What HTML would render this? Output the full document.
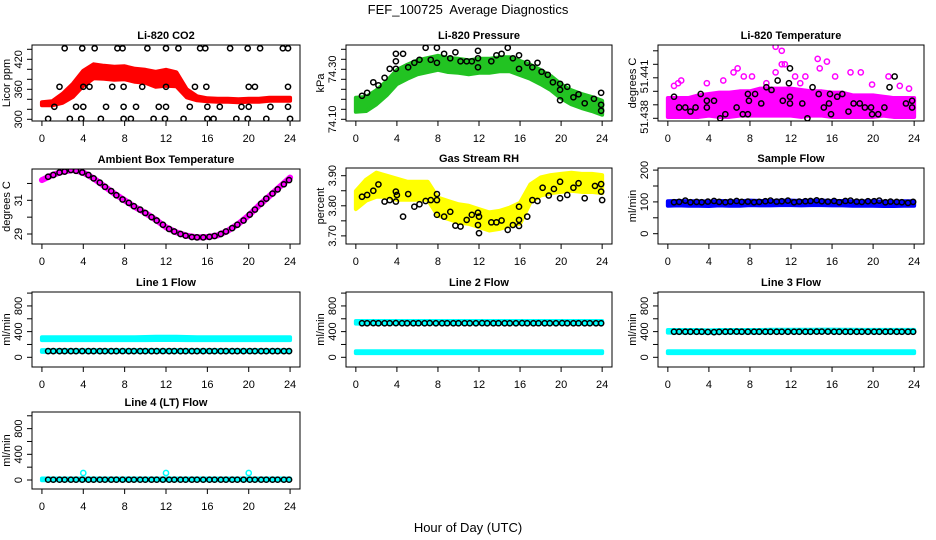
<!DOCTYPE html>
<html><head><meta charset="utf-8"><style>
html,body{margin:0;padding:0;background:#fff;}
svg{display:block;font-family:"Liberation Sans",sans-serif;}
</style></head><body>
<svg id="chart" width="936" height="540" viewBox="0 0 936 540" xmlns="http://www.w3.org/2000/svg">
<rect x="0" y="0" width="936" height="540" fill="#fff"/>
<text x="468" y="14" text-anchor="middle" font-size="13" style="white-space:pre">FEF_100725  Average Diagnostics</text>
<text x="468" y="532" text-anchor="middle" font-size="13">Hour of Day (UTC)</text>
</svg>
<script>
// ---- shared data ----
const xTicks = [0,4,8,12,16,20,24];
const hrs25 = [0,1,2,3,4,5,6,7,8,9,10,11,12,13,14,15,16,17,18,19,20,21,22,23,24];
const sampHours = [0.6,1.1,1.7,2.2,2.8,3.3,3.9,4.5,5.0,5.6,6.1,6.7,7.2,7.8,8.4,8.9,9.5,10.0,10.6,11.1,11.7,12.3,12.8,13.4,13.9,14.5,15.0,15.6,16.2,16.7,17.3,17.8,18.4,18.9,19.5,20.1,20.6,21.2,21.7,22.3,22.8,23.4,23.9];

// CO2
const co2Mid = [331,332,342,358,382,396,394,392,393,388,386,380,383,380,352,342,339,338,338,337,338,338,340,340,340];
const co2Half = [3,4,9,13,15,14,13,13,13,13,13,15,16,14,8,4,3,3,3,3,3,3,3,3,3];
const co2PtHours = [2.2,3.9,5.1,7.3,7.8,10.2,12.0,13.2,15.3,15.8,18.2,19.9,21.1,23.3,23.8,
 1.7,4.0,4.6,6.8,7.9,9.7,12.0,14.8,15.9,20.0,20.6,23.8,
 1.2,3.3,4.0,6.2,7.9,9.1,11.3,12.0,14.3,16.0,17.2,19.3,20.0,22.1,23.8,
 0.6,2.7,3.8,5.7,7.9,8.6,10.8,11.9,13.7,16.0,16.6,18.8,19.9,21.7,24.0];
const co2PtVals = [442,442,442,442,442,442,442,442,442,442,442,442,442,442,442,
 365,365,365,365,365,365,365,365,365,365,365,365,
 325,325,325,325,325,325,325,325,325,325,325,325,325,325,325,
 301,301,301,301,301,301,301,301,301,301,301,301,301,301,301];

// Pressure
const presMid = [74.158,74.161,74.188,74.224,74.269,74.29,74.308,74.317,74.326,74.317,74.314,74.308,74.314,74.314,74.32,74.32,74.305,74.29,74.269,74.245,74.212,74.188,74.173,74.161,74.146];
const presHalf = [0.028,0.028,0.028,0.028,0.028,0.028,0.028,0.028,0.028,0.028,0.028,0.028,0.028,0.028,0.028,0.028,0.028,0.028,0.028,0.028,0.028,0.028,0.028,0.028,0.028];
const presPtHours = [0.6,1.1,1.7,2.2,2.8,3.3,3.9,3.9,3.9,4.6,5.1,5.7,6.2,6.8,7.3,7.9,7.9,8.6,9.2,9.7,10.2,10.8,11.3,11.9,11.9,11.9,13.2,13.7,14.2,14.8,15.3,15.9,15.9,16.7,17.2,17.7,18.1,18.7,19.2,19.9,19.9,19.9,20.6,21.2,21.7,22.3,23.2,23.9,23.9,23.9];
const presPtVals = [74.194,74.206,74.248,74.236,74.266,74.302,74.362,74.332,74.302,74.362,74.308,74.326,74.338,74.386,74.338,74.386,74.326,74.362,74.344,74.368,74.332,74.332,74.332,74.374,74.344,74.308,74.332,74.356,74.362,74.386,74.344,74.356,74.302,74.326,74.308,74.326,74.29,74.278,74.248,74.242,74.218,74.176,74.23,74.188,74.2,74.164,74.182,74.206,74.158,74.134];

// Li-820 Temperature
const tMid = [51.4388,51.4388,51.4388,51.4389,51.4390,51.4390,51.4390,51.4391,51.4391,51.4392,51.4392,51.4392,51.4392,51.4391,51.4391,51.4391,51.4390,51.4390,51.4389,51.4389,51.4389,51.4389,51.4388,51.4388,51.4388];
const tHalf = [0.0007,0.0007,0.0007,0.0008,0.0008,0.0009,0.0009,0.0009,0.0009,0.0010,0.0010,0.0010,0.0010,0.0010,0.0009,0.0009,0.0009,0.0009,0.0008,0.0008,0.0008,0.0007,0.0007,0.0007,0.0007];
const tOutHours = [10.5,11.1,14.6,15.5,14.8,11.1,11.4,6.8,6.4,1.3,5.4,7.4,8.2,10.5,12.4,13.4,16.3,17.8,18.8,21.5,0.6,1.0,3.8,9.6,12.9,19.9,22.6,23.5];
const tOutVals = [51.4433,51.4430,51.4424,51.4422,51.4417,51.4420,51.4420,51.4417,51.4414,51.4408,51.4408,51.4411,51.4411,51.4414,51.4411,51.4411,51.4411,51.4414,51.4414,51.4411,51.4404,51.4406,51.4406,51.4406,51.4406,51.4405,51.4404,51.4402];
const tPtHours = [0.6,1.1,1.7,2.2,2.7,3.2,3.8,3.8,4.5,5.1,5.6,6.7,7.3,7.8,7.8,7.9,8.5,9.1,9.6,10.1,10.7,11.2,11.8,11.9,11.9,11.9,13.1,13.6,14.1,14.7,15.2,15.7,15.8,15.9,16.5,17.0,17.6,18.1,18.7,19.2,19.8,19.9,20.5,21.1,21.6,22.1,23.2,23.8,23.8];
const tPtVals = [51.4396,51.4388,51.4388,51.4385,51.4388,51.4398,51.4393,51.4388,51.4393,51.4380,51.4383,51.4388,51.4383,51.4383,51.4398,51.4393,51.4398,51.4391,51.4403,51.4401,51.4408,51.4393,51.4406,51.4396,51.4391,51.4417,51.4391,51.4380,51.4403,51.4398,51.4388,51.4391,51.4398,51.4383,51.4396,51.4398,51.4385,51.4391,51.4391,51.4388,51.4388,51.4383,51.4383,51.4388,51.4403,51.4411,51.4391,51.4393,51.4388];

// Ambient box temperature
const ambMid = [32.2,32.5,32.7,32.8,32.65,32.3,31.85,31.4,31.0,30.6,30.25,29.85,29.4,29.1,28.9,28.8,28.82,28.92,29.2,29.6,30.1,30.7,31.25,31.8,32.35];
const ambPtVals = [32.4,32.5,32.65,32.7,32.8,32.75,32.65,32.5,32.3,32.05,31.8,31.55,31.3,31.05,30.85,30.65,30.45,30.25,30.0,29.8,29.55,29.3,29.15,29.0,28.9,28.82,28.8,28.8,28.83,28.88,29.0,29.15,29.35,29.55,29.8,30.15,30.45,30.8,31.1,31.4,31.65,31.95,32.2];

// Gas stream RH
const rhMid = [3.819,3.852,3.870,3.865,3.855,3.850,3.850,3.850,3.797,3.786,3.775,3.770,3.759,3.748,3.753,3.764,3.775,3.841,3.864,3.872,3.876,3.880,3.876,3.876,3.872];
const rhHalf = [0.03,0.035,0.04,0.035,0.035,0.03,0.03,0.03,0.03,0.03,0.03,0.03,0.03,0.03,0.03,0.03,0.035,0.03,0.03,0.03,0.03,0.03,0.03,0.03,0.03];
const rhPtHours = [0.6,1.1,1.7,2.2,2.8,3.3,3.9,3.9,4.0,4.6,5.1,5.7,6.2,6.8,7.3,7.9,7.9,7.9,8.6,9.2,9.7,10.2,10.8,11.3,11.9,11.9,12.0,12.0,13.2,13.7,14.2,14.8,15.3,15.9,15.9,15.9,16.7,17.2,17.7,18.2,18.8,19.3,19.9,19.9,20.6,21.2,21.7,22.3,23.3,23.9,23.9,24.0];
const rhPtVals = [3.830,3.836,3.850,3.871,3.814,3.819,3.847,3.814,3.836,3.764,3.839,3.797,3.805,3.816,3.819,3.839,3.819,3.770,3.764,3.780,3.734,3.731,3.753,3.770,3.777,3.736,3.709,3.764,3.745,3.745,3.751,3.720,3.736,3.753,3.797,3.733,3.764,3.819,3.816,3.860,3.834,3.856,3.880,3.825,3.836,3.860,3.875,3.825,3.866,3.872,3.847,3.819];

// Sample flow
const sfMid = [95,96,95,95,94,96,95,95,97,96,96,97,97,96,97,97,96,96,95,95,95,94,94,95,95];
const sfHalf = [7,7,7,7,7,7,7,7,7,7,7,7,7,7,7,7,7,7,7,7,7,7,7,7,7];
const sfPtVals = [99,100,104,99,100,99,101,103,100,99,101,103,100,101,99,100,102,104,101,102,104,99,101,102,103,105,102,101,103,99,103,104,101,100,102,102,104,99,101,100,99,97,100];

// Line flows
const l1Mid = [290,290,290,290,290,290,290,290,290,290,292,295,295,295,292,290,290,290,290,290,290,290,290,290,290];
const l1Half = [22,22,22,22,22,22,22,22,22,22,24,26,26,26,24,22,22,22,22,22,22,22,22,22,22];
const l1LowMid = [98,98,98,98,98,98,98,98,98,98,98,98,98,98,98,98,98,98,98,98,98,98,98,98,98];
const l1PtVals = [96,96,96,96,96,96,97,96,96,96,96,96,96,97,96,96,96,96,96,96,97,96,96,96,96,96,96,96,97,96,96,96,96,96,96,97,96,96,96,96,96,96,96];
const l2Mid = [545,545,545,545,545,545,545,545,545,545,545,545,545,545,545,545,545,545,545,545,545,545,545,545,545];
const l2LowMid = [80,80,80,80,80,80,80,80,80,80,80,80,80,80,80,80,80,80,80,80,80,80,80,80,80];
const l2PtVals = [530,530,532,530,530,531,532,530,530,530,531,530,532,530,530,531,530,530,531,530,530,532,530,530,531,530,530,530,532,530,530,531,530,530,530,532,530,530,531,530,530,530,530];
const l3Mid = [405,405,405,405,400,405,405,405,405,405,410,410,410,410,410,412,412,410,410,408,408,408,408,408,408];
const l3LowMid = [80,80,80,80,80,80,80,80,80,80,80,80,80,80,80,80,80,80,80,80,80,80,80,80,80];
const l3PtVals = [398,398,398,398,398,398,395,392,396,398,400,400,398,398,398,398,398,398,398,398,398,398,398,398,398,400,400,400,398,398,398,398,398,398,398,398,398,398,400,398,398,398,398];
const l4Mid = [10,10,10,10,10,10,10,10,10,10,10,10,10,10,10,10,10,10,10,10,10,10,10,10,10];
const l4SpikeHours = [4,12,20];
const l4SpikeVals = [110,110,110];
const l4PtVals = [5,5,5,5,5,5,5,5,5,5,5,5,5,5,5,5,5,5,5,5,5,5,5,5,5,5,5,5,5,5,5,5,5,5,5,5,5,5,5,5,5,5,5];
const lineHalf = [20,20,20,20,20,20,20,20,20,20,20,20,20,20,20,20,20,20,20,20,20,20,20,20,20];
const lowHalf = [14,14,14,14,14,14,14,14,14,14,14,14,14,14,14,14,14,14,14,14,14,14,14,14,14];

// ---- drawing helpers ----
const NS = 'http://www.w3.org/2000/svg';
const svg = document.getElementById('chart');
function mk(tag, attrs, parent) {
  const e = document.createElementNS(NS, tag);
  for (const k in attrs) e.setAttribute(k, attrs[k]);
  (parent || svg).appendChild(e);
  return e;
}
function panel(cfg) {
  const g = mk('g', {});
  
  
  const x = h => cfg.left + (h - (-0.96)) / 25.92 * cfg.w;
  const y = v => cfg.top + (cfg.ymax - v) / (cfg.ymax - cfg.ymin) * cfg.h;
  const plot = mk('g', {}, g);
  
  
  const t = mk('text', {x: cfg.left + cfg.w / 2, y: cfg.top - 6, 'text-anchor': 'middle', 'font-size': 11, 'font-weight': 'bold'}, g);
  t.textContent = cfg.title;
  
  
  const xa = mk('g', {}, g);
  
  
  xTicks.forEach(tk => {
    const px = x(tk);
    mk('line', {x1: px, x2: px, y1: cfg.top + cfg.h, y2: cfg.top + cfg.h + 5, stroke: '#000', 'stroke-width': 1}, xa);
    const lb = mk('text', {x: px, y: cfg.top + cfg.h + 21, 'text-anchor': 'middle', 'font-size': 11}, xa);
    lb.textContent = String(tk);
    
    
  });
  const ya = mk('g', {}, g);
  
  
  cfg.yTicks.forEach(tk => {
    const py = y(tk);
    mk('line', {x1: cfg.left - 5, x2: cfg.left, y1: py, y2: py, stroke: '#000', 'stroke-width': 1}, ya);
  });
  cfg.yLabelVals.forEach((v, i) => {
    const py = y(v);
    const lb = mk('text', {x: 0, y: 0, 'text-anchor': 'middle', 'font-size': 11, transform: `translate(${cfg.left - 10},${py}) rotate(-90)`}, ya);
    lb.textContent = cfg.yLabelText[i];
    
    
  });
  const yt = mk('text', {x: 0, y: 0, 'text-anchor': 'middle', 'font-size': 11, transform: `translate(${cfg.left - 22},${cfg.top + cfg.h / 2}) rotate(-90)`}, g);
  yt.textContent = cfg.ylab;
  
  
  const clip = mk('clipPath', {id: 'clip-' + cfg.name}, g);
  mk('rect', {x: cfg.left, y: cfg.top, width: cfg.w, height: cfg.h}, clip);
  plot.setAttribute('clip-path', `url(#clip-${cfg.name})`);
  const box = mk('rect', {x: cfg.left, y: cfg.top, width: cfg.w, height: cfg.h, fill: 'none', stroke: '#000', 'stroke-width': 1}, g);
  
  
  return {x, y, plot};
}
function band(p, hrs, mid, half, color, name) {
  let up = [], lo = [];
  hrs.forEach((h, i) => { up.push(p.x(h) + ',' + p.y(mid[i] + half[i])); });
  for (let i = hrs.length - 1; i >= 0; i--) lo.push(p.x(hrs[i]) + ',' + p.y(mid[i] - half[i]));
  const e = mk('polygon', {points: up.concat(lo).join(' '), fill: color, stroke: color, 'stroke-width': 4, 'stroke-linejoin': 'round'}, p.plot);
  
  
}
function thickLine(p, hrs, vals, color, w, name) {
  const e = mk('polyline', {points: hrs.map((h, i) => p.x(h) + ',' + p.y(vals[i])).join(' '), fill: 'none', stroke: color, 'stroke-width': w, 'stroke-linecap': 'round', 'stroke-linejoin': 'round'}, p.plot);
  
  
}
function pts(p, hrs, vals, color, name) {
  const g = mk('g', {}, p.plot);
  
  
  hrs.forEach((h, i) => {
    const c = mk('circle', {cx: p.x(h), cy: p.y(vals[i]), r: 2.6, fill: 'none', stroke: color, 'stroke-width': 1.5}, g);
    
    
  });
}

const C1 = 32, C2 = 346, C3 = 658, W = 268, W2 = 266;
const R1 = 45, R2 = 168, R3 = 292, R4 = 412, H = 76;

let p = panel({name: 'co2', left: C1, top: R1, w: W, h: H, ymin: 296.6, ymax: 448.6, title: 'Li-820 CO2', ylab: 'Licor ppm',
  yTicks: [300,320,340,360,380,400,420,440], yLabelVals: [300,360,420], yLabelText: ['300','360','420']});
band(p, hrs25, co2Mid, co2Half, '#ff0000', 'co2-series');
pts(p, co2PtHours, co2PtVals, '#000', 'co2-averages');

p = panel({name: 'pressure', left: C2, top: R1, w: W2, h: H, ymin: 74.0932, ymax: 74.3972, title: 'Li-820 Pressure', ylab: 'kPa',
  yTicks: [74.10,74.14,74.18,74.22,74.26,74.30,74.34,74.38], yLabelVals: [74.10,74.30], yLabelText: ['74.10','74.30']});
band(p, hrs25, presMid, presHalf, '#22c322', 'pressure-series');
pts(p, presPtHours, presPtVals, '#000', 'pressure-averages');

p = panel({name: 'licor-temp', left: C3, top: R1, w: W2, h: H, ymin: 51.4378, ymax: 51.44343, title: 'Li-820 Temperature', ylab: 'degrees C',
  yTicks: [51.438,51.439,51.440,51.441,51.442,51.443], yLabelVals: [51.4381,51.4411], yLabelText: ['51.438','51.441']});
band(p, hrs25, tMid, tHalf, '#ff00ff', 'licor-temp-series');
pts(p, tOutHours, tOutVals, '#ff00ff', 'licor-temp-outliers');
pts(p, tPtHours, tPtVals, '#000', 'licor-temp-averages');

p = panel({name: 'ambient-temp', left: C1, top: R2 + 1, w: W, h: H - 1, ymin: 28.407, ymax: 32.858, title: 'Ambient Box Temperature', ylab: 'degrees C',
  yTicks: [29,30,31,32], yLabelVals: [29,31], yLabelText: ['29','31']});
thickLine(p, hrs25, ambMid, '#ff00ff', 6, 'ambient-temp-series');
pts(p, sampHours, ambPtVals, '#000', 'ambient-temp-averages');

p = panel({name: 'gas-rh', left: C2, top: R2, w: W2, h: H, ymin: 3.673, ymax: 3.9256, title: 'Gas Stream RH', ylab: 'percent',
  yTicks: [3.70,3.75,3.80,3.85,3.90], yLabelVals: [3.70,3.80,3.90], yLabelText: ['3.70','3.80','3.90']});
band(p, hrs25, rhMid, rhHalf, '#ffff00', 'gas-rh-series');
pts(p, rhPtHours, rhPtVals, '#000', 'gas-rh-averages');

p = panel({name: 'sample-flow', left: C3, top: R2, w: W2, h: H, ymin: -32.4, ymax: 206.6, title: 'Sample Flow', ylab: 'ml/min',
  yTicks: [0,50,100,150,200], yLabelVals: [0,100,200], yLabelText: ['0','100','200']});
band(p, hrs25, sfMid, sfHalf, '#0000ff', 'sample-flow-series');
pts(p, sampHours, sfPtVals, '#000', 'sample-flow-averages');

const flowTicks = [0,200,400,600,800,1000];
p = panel({name: 'line1-flow', left: C1, top: R3, w: W, h: H - 1, ymin: -151, ymax: 1017, title: 'Line 1 Flow', ylab: 'ml/min',
  yTicks: flowTicks, yLabelVals: [0,400,800], yLabelText: ['0','400','800']});
band(p, hrs25, l1Mid, l1Half, '#00ffff', 'line1-flow-series');
band(p, hrs25, l1LowMid, lowHalf, '#00ffff', 'line1-flow-low-series');
pts(p, sampHours, l1PtVals, '#000', 'line1-flow-averages');

p = panel({name: 'line2-flow', left: C2, top: R3, w: W2, h: H - 1, ymin: -151, ymax: 1017, title: 'Line 2 Flow', ylab: 'ml/min',
  yTicks: flowTicks, yLabelVals: [0,400,800], yLabelText: ['0','400','800']});
band(p, hrs25, l2Mid, lineHalf, '#00ffff', 'line2-flow-series');
band(p, hrs25, l2LowMid, lowHalf, '#00ffff', 'line2-flow-low-series');
pts(p, sampHours, l2PtVals, '#000', 'line2-flow-averages');

p = panel({name: 'line3-flow', left: C3, top: R3, w: W2, h: H - 1, ymin: -151, ymax: 1017, title: 'Line 3 Flow', ylab: 'ml/min',
  yTicks: flowTicks, yLabelVals: [0,400,800], yLabelText: ['0','400','800']});
band(p, hrs25, l3Mid, lineHalf, '#00ffff', 'line3-flow-series');
band(p, hrs25, l3LowMid, lowHalf, '#00ffff', 'line3-flow-low-series');
pts(p, sampHours, l3PtVals, '#000', 'line3-flow-averages');

p = panel({name: 'line4-flow', left: C1, top: R4, w: W, h: H + 1, ymin: -140, ymax: 1059, title: 'Line 4 (LT) Flow', ylab: 'ml/min',
  yTicks: flowTicks, yLabelVals: [0,400,800], yLabelText: ['0','400','800']});
band(p, hrs25, l4Mid, lowHalf, '#00ffff', 'line4-flow-series');
pts(p, l4SpikeHours, l4SpikeVals, '#00ffff', 'line4-flow-spikes');
pts(p, sampHours, l4PtVals, '#000', 'line4-flow-averages');
</script>
</body></html>
